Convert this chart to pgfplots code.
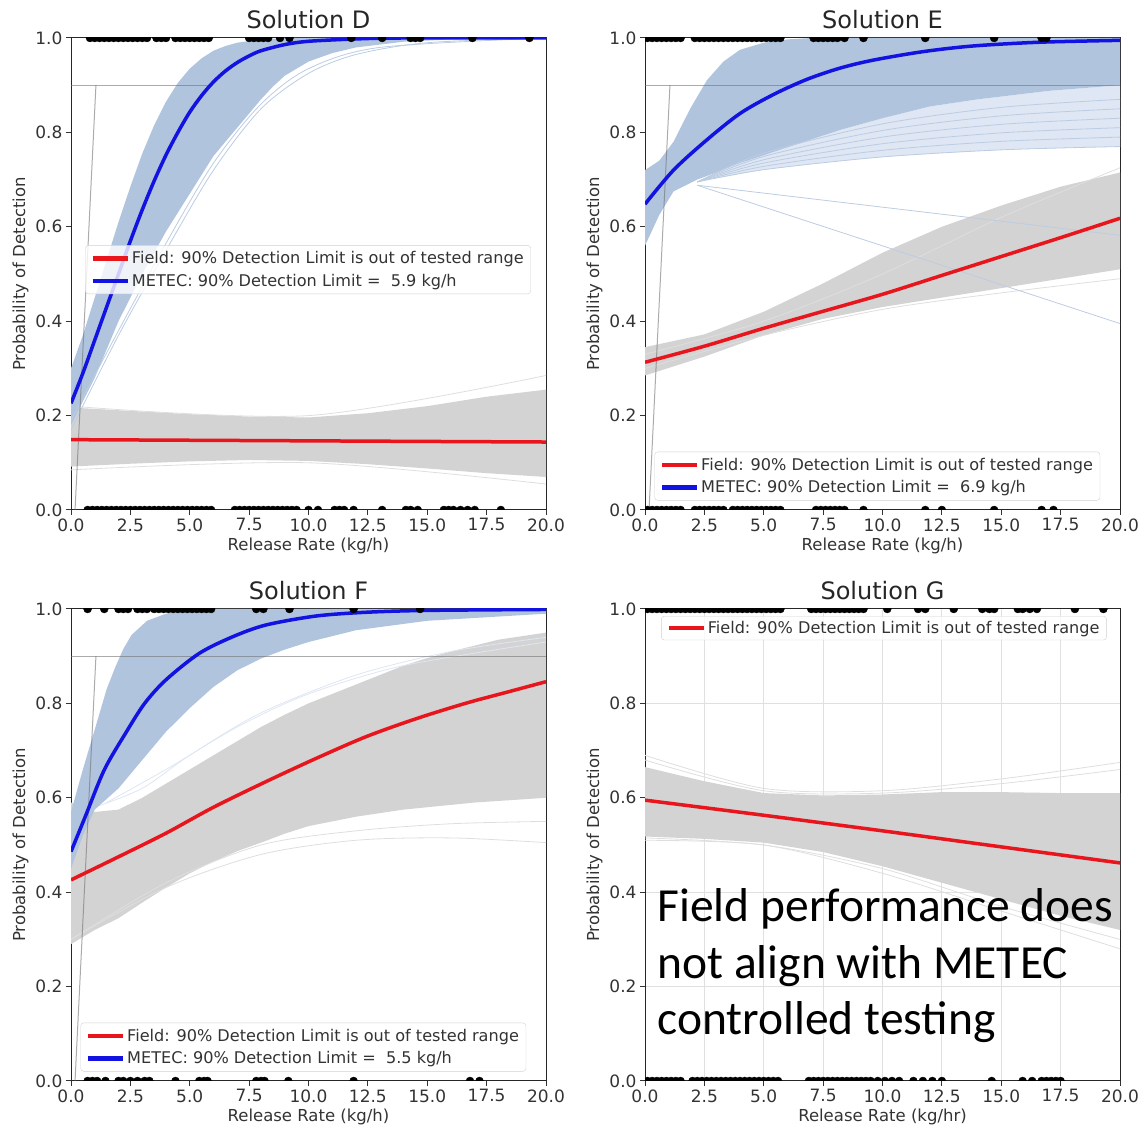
\documentclass[border=0pt]{standalone}
\usepackage{fontspec}
\setmainfont{DejaVu Sans}
\newfontfamily\calib{Carlito}
\usepackage{pgfplots}
\pgfplotsset{compat=1.18}
\definecolor{bandblue}{RGB}{176,196,222}
\definecolor{bandgray}{RGB}{211,211,211}
\definecolor{mred}{RGB}{232,22,28}
\definecolor{mblue}{RGB}{18,18,225}
\definecolor{fanblue}{RGB}{188,204,227}
\definecolor{fanfill}{RGB}{222,231,243}
\definecolor{paleblue}{RGB}{222,230,242}
\definecolor{thingray}{RGB}{222,222,222}
\pgfplotsset{
  legend image code/.code={\draw[#1, line width=4.5pt] (0pt,0pt) -- (35pt,0pt);},
  podstyle/.style={
    scale only axis, width=475pt, height=472pt,
    xmin=0, xmax=20, ymin=0, ymax=1,
    xtick={0,2.5,5,7.5,10,12.5,15,17.5,20},
    xticklabels={0.0,2.5,5.0,7.5,10.0,12.5,15.0,17.5,20.0},
    ytick={0,0.2,0.4,0.6,0.8,1},
    yticklabels={0.0,0.2,0.4,0.6,0.8,1.0},
    tick align=outside, tick pos=left,
    major tick length=5pt,
    tick style={black!80, line width=1pt},
    ticklabel style={font=\fontsize{17}{20}\selectfont, text=black!80},
    axis line style={black!85, line width=1pt},
    label style={font=\fontsize{16.5}{20}\selectfont, text=black!80},
    title style={font=\fontsize{24}{28}\selectfont, text=black!85},
    ylabel={Probability of Detection},
    clip mode=individual, clip marker paths=true,
    legend cell align=left,
    legend style={draw=black!18, fill=white, fill opacity=0.8, draw opacity=1, text opacity=1, rounded corners=3pt, font=\fontsize{16.1}{19}\selectfont, text=black!80, inner xsep=5pt, inner ysep=4pt, row sep=5pt},
  },
  dot/.style={only marks, mark=*, mark size=4pt, black, forget plot},
  mainline/.style={line width=3.5pt, smooth},
  guide/.style={black!55, line width=1pt, opacity=0.6, forget plot},
  band/.style={draw=none, fill=#1, forget plot},
  faint/.style={#1, line width=0.8pt, smooth, forget plot},
}
\begin{document}
\begin{tikzpicture}
\path[use as bounding box] (0,0) rectangle (1142pt,1134pt);

% ---------------- Solution D ----------------
\begin{axis}[podstyle, at={(71pt,624pt)}, anchor=south west, title={Solution D}, xlabel={Release Rate (kg/h)},
  legend style={at={(0.03,0.561)}, anchor=north west}]
\addplot[band=bandgray] coordinates {(0,0.217) (2.5,0.21) (5,0.203) (7.5,0.198) (10,0.196) (12.5,0.205) (15,0.22) (17.5,0.24) (20,0.255) (20,0.07) (17.5,0.078) (15,0.088) (12.5,0.097) (10,0.104) (7.5,0.106) (5,0.103) (2.5,0.098) (0,0.092)};
\addplot[faint=thingray] coordinates {(0,0.22) (10,0.2) (20,0.285)};
\addplot[faint=thingray] coordinates {(0,0.085) (10,0.1) (20,0.055)};
\addplot[band=bandblue] coordinates {(0,0.30) (0.5,0.37) (1,0.45) (1.5,0.53) (2,0.61) (2.5,0.685) (3,0.755) (3.5,0.815) (4,0.865) (4.5,0.905) (5,0.935) (5.5,0.957) (6,0.973) (6.5,0.983) (7,0.99) (8,0.997) (9,1.0) (20,1.0) (16,0.997) (14,0.992) (12,0.98) (11,0.968) (10,0.95) (9,0.92) (8.5,0.897) (8,0.87) (7.5,0.84) (7,0.81) (6.5,0.78) (6,0.75) (5.5,0.71) (5,0.67) (4.5,0.63) (4,0.59) (3.5,0.545) (3,0.50) (2.5,0.45) (2,0.40) (1.5,0.34) (1,0.28) (0.5,0.23) (0,0.18)};
\addplot[faint=fanblue] coordinates {(0,0.17) (2,0.37) (4,0.55) (6,0.72) (8,0.85) (10,0.925) (12,0.965) (15,0.99) (20,1.0)};
\addplot[faint=fanblue] coordinates {(0,0.19) (2,0.38) (4,0.565) (6,0.735) (8,0.86) (10,0.935) (13,0.98) (20,1.0)};
\addplot[guide] coordinates {(0.17,0) (1.05,0.9)};
\addplot[guide] coordinates {(0,0.9) (5.9,0.9)};
\addplot[mred, mainline] coordinates {(0,0.149) (20,0.144)};
\addlegendentry{Field: 90\% Detection Limit is out of tested range}
\addplot[mblue, mainline] coordinates {(0,0.226) (0.5,0.29) (1,0.36) (1.5,0.43) (2,0.50) (2.5,0.57) (3,0.636) (3.5,0.697) (4,0.752) (4.5,0.80) (5,0.843) (5.5,0.878) (6,0.907) (6.5,0.930) (7,0.948) (7.5,0.962) (8,0.973) (9,0.986) (10,0.993) (12,0.998) (14,1.0) (20,1.0)};
\addlegendentry{METEC: 90\% Detection Limit =\ \ 5.9 kg/h}
\addplot[dot] coordinates {(0.8,1) (1.0,1) (1.2,1) (1.4,1) (1.6,1) (1.8,1) (2.0,1) (2.2,1) (2.4,1) (2.6,1) (2.8,1) (3.0,1) (3.2,1) (3.6,1) (3.8,1) (4.0,1) (4.4,1) (4.6,1) (4.8,1) (5.0,1) (5.2,1) (5.4,1) (5.6,1) (5.8,1) (7.5,1) (7.7,1) (7.9,1) (8.1,1) (8.3,1) (8.8,1) (9.2,1) (11.8,1) (13.1,1) (14.3,1) (14.5,1) (14.7,1) (16.9,1) (19.3,1)};
\addplot[dot] coordinates {(0.7,0) (0.9,0) (1.1,0) (1.3,0) (1.5,0) (1.7,0) (1.9,0) (2.1,0) (2.3,0) (2.5,0) (2.7,0) (2.9,0) (3.1,0) (3.3,0) (3.5,0) (3.7,0) (3.9,0) (4.1,0) (4.3,0) (4.5,0) (4.7,0) (4.9,0) (5.1,0) (5.3,0) (5.5,0) (5.7,0) (5.9,0) (6.9,0) (7.1,0) (7.3,0) (7.5,0) (7.7,0) (7.9,0) (8.1,0) (8.3,0) (8.5,0) (8.7,0) (8.9,0) (9.1,0) (9.3,0) (9.5,0) (10.0,0) (10.4,0) (11.1,0) (11.3,0) (11.5,0) (11.9,0) (13.1,0) (14.1,0) (14.3,0) (14.6,0) (15.7,0) (15.9,0) (16.1,0) (16.4,0) (16.7,0) (17.0,0) (18.1,0)};
\end{axis}

% ---------------- Solution E ----------------
\begin{axis}[podstyle, at={(645pt,624pt)}, anchor=south west, title={Solution E}, xlabel={Release Rate (kg/h)},
  legend style={at={(0.02,0.02)}, anchor=south west}]
\addplot[band=bandgray] coordinates {(0,0.345) (2.5,0.372) (5,0.42) (7.5,0.48) (10,0.545) (12.5,0.60) (15,0.645) (17.5,0.685) (20,0.715) (20,0.51) (17.5,0.49) (15,0.47) (12.5,0.45) (10,0.43) (7.5,0.405) (5,0.37) (2.5,0.325) (0,0.285)};
\addplot[faint=thingray] coordinates {(0,0.33) (5,0.40) (10,0.50) (15,0.62) (20,0.725)};
\addplot[faint=thingray] coordinates {(0,0.30) (5,0.37) (10,0.425) (15,0.46) (20,0.49)};
\addplot[band=fanfill] coordinates {(2.2,0.695) (5,0.721) (7.5,0.736) (10,0.748) (12.5,0.756) (15,0.763) (17.5,0.767) (20,0.77) (20,0.90) (17,0.888) (14,0.87) (12,0.855) (10,0.83) (8.2,0.805) (7,0.785) (5.5,0.76) (4,0.735) (3,0.715)};
\addplot[band=bandblue] coordinates {(0,0.72) (0.6,0.74) (1.2,0.78) (1.9,0.85) (2.6,0.91) (3.3,0.95) (4,0.975) (5,0.99) (6,0.997) (7,1.0) (20,1.0) (20,0.90) (17,0.888) (14,0.87) (12,0.855) (10,0.83) (8.2,0.805) (7,0.785) (5.5,0.76) (4,0.735) (3,0.715) (2.2,0.70) (1.2,0.675) (0.6,0.625) (0,0.56)};
\addplot[faint=fanblue] coordinates {(2.2,0.695) (5,0.721) (10,0.748) (15,0.763) (20,0.77)};
\addplot[faint=fanblue] coordinates {(2.2,0.695) (5,0.728) (10,0.762) (15,0.781) (20,0.79)};
\addplot[faint=fanblue] coordinates {(2.2,0.695) (5,0.735) (10,0.776) (15,0.799) (20,0.81)};
\addplot[faint=fanblue] coordinates {(2.2,0.695) (5,0.742) (10,0.790) (15,0.817) (20,0.83)};
\addplot[faint=fanblue] coordinates {(2.2,0.695) (5,0.749) (10,0.804) (15,0.835) (20,0.85)};
\addplot[faint=fanblue] coordinates {(2.2,0.695) (5,0.756) (10,0.818) (15,0.853) (20,0.87)};
\addplot[faint=fanblue] coordinates {(2.2,0.688) (20,0.395)};
\addplot[faint=fanblue] coordinates {(2.2,0.688) (20,0.582)};
\addplot[guide] coordinates {(0.17,0) (1.05,0.9)};
\addplot[guide] coordinates {(0,0.9) (20,0.9)};
\addplot[mred, mainline] coordinates {(0,0.313) (2.5,0.347) (5,0.385) (7.5,0.421) (10,0.457) (12.5,0.497) (15,0.537) (17.5,0.577) (20,0.618)};
\addlegendentry{Field: 90\% Detection Limit is out of tested range}
\addplot[mblue, mainline] coordinates {(0,0.648) (1.2,0.72) (2.6,0.784) (4.0,0.84) (5.4,0.88) (6.8,0.912) (8.2,0.936) (9.6,0.953) (11.7,0.971) (13.8,0.983) (16.6,0.991) (20,0.995)};
\addlegendentry{METEC: 90\% Detection Limit =\ \ 6.9 kg/h}
\addplot[dot] coordinates {(0.1,1) (0.3,1) (0.5,1) (0.7,1) (0.9,1) (1.1,1) (1.3,1) (1.5,1) (2.1,1) (2.3,1) (2.5,1) (2.7,1) (2.9,1) (3.1,1) (3.3,1) (3.5,1) (3.7,1) (3.9,1) (4.1,1) (4.3,1) (4.5,1) (4.7,1) (4.9,1) (5.1,1) (5.3,1) (5.5,1) (5.7,1) (7.1,1) (7.3,1) (7.5,1) (7.7,1) (7.9,1) (8.1,1) (8.4,1) (9.2,1) (11.8,1) (14.7,1) (16.7,1) (16.9,1)};
\addplot[dot] coordinates {(0.1,0) (0.3,0) (0.5,0) (0.7,0) (0.9,0) (1.1,0) (1.3,0) (1.5,0) (2.1,0) (2.3,0) (2.5,0) (2.7,0) (2.9,0) (3.1,0) (3.3,0) (3.7,0) (3.9,0) (4.1,0) (4.3,0) (4.5,0) (4.7,0) (4.9,0) (5.1,0) (5.3,0) (5.5,0) (5.7,0) (7.2,0) (7.4,0) (7.6,0) (7.8,0) (8.0,0) (8.2,0) (8.4,0) (9.2,0) (11.8,0) (12.5,0) (14.7,0) (16.7,0) (17.2,0)};
\end{axis}

% ---------------- Solution F ----------------
\begin{axis}[podstyle, at={(71pt,53pt)}, anchor=south west, title={Solution F}, xlabel={Release Rate (kg/h)},
  legend style={at={(0.02,0.02)}, anchor=south west}]
\addplot[band=bandgray] coordinates {(0,0.59) (1,0.57) (2,0.575) (3,0.60) (4,0.63) (5,0.66) (6,0.69) (7,0.72) (8,0.75) (9,0.776) (10,0.80) (11,0.82) (12,0.84) (13,0.86) (14,0.88) (15,0.896) (16,0.91) (18,0.935) (20,0.95) (20,0.60) (17,0.59) (14,0.575) (12,0.56) (10,0.54) (9,0.524) (8,0.505) (7,0.487) (6,0.465) (5,0.44) (4,0.41) (3,0.378) (2,0.345) (1,0.32) (0,0.29)};
\addplot[faint=thingray] coordinates {(0,0.30) (4,0.42) (8,0.50) (12,0.53) (16,0.545) (20,0.55)};
\addplot[faint=thingray] coordinates {(0,0.30) (4,0.41) (8,0.48) (12,0.51) (16,0.515) (20,0.505)};
\addplot[faint=paleblue] coordinates {(1,0.58) (3,0.62) (5,0.69) (8,0.78) (12,0.86) (16,0.91) (20,0.94)};
\addplot[faint=paleblue] coordinates {(1.5,0.59) (4,0.66) (7,0.75) (10,0.82) (14,0.88) (20,0.93)};
\addplot[band=bandblue] coordinates {(0,0.57) (0.5,0.66) (1.15,0.77) (1.5,0.83) (1.85,0.875) (2.2,0.915) (2.55,0.945) (3.2,0.975) (4,0.99) (5,0.998) (6,1.0) (20,1.0) (20,0.99) (15,0.975) (12,0.955) (10,0.93) (9,0.914) (8,0.895) (7,0.87) (6,0.835) (5,0.79) (4,0.74) (3,0.68) (2,0.62) (1,0.575) (0.5,0.52) (0,0.45)};
\addplot[guide] coordinates {(0.17,0) (1.05,0.9)};
\addplot[guide] coordinates {(0,0.9) (20,0.9)};
\addplot[mred, mainline] coordinates {(0,0.426) (2,0.475) (4,0.525) (6,0.58) (8.2,0.634) (10.3,0.683) (12.4,0.729) (14.5,0.767) (16.6,0.80) (18.3,0.823) (20,0.846)};
\addlegendentry{Field: 90\% Detection Limit is out of tested range}
\addplot[mblue, mainline] coordinates {(0,0.486) (0.6,0.56) (1.4,0.659) (2.3,0.737) (3.1,0.80) (4.0,0.85) (5.4,0.906) (6.8,0.941) (8.2,0.966) (10.3,0.985) (12.4,0.993) (15,0.997) (20,0.999)};
\addlegendentry{METEC: 90\% Detection Limit =\ \ 5.5 kg/h}
\addplot[dot] coordinates {(0.7,1) (1.4,1) (2.0,1) (2.2,1) (2.4,1) (2.8,1) (3.0,1) (3.2,1) (3.5,1) (3.7,1) (3.9,1) (4.1,1) (4.3,1) (4.5,1) (4.7,1) (4.9,1) (5.1,1) (5.3,1) (5.5,1) (5.7,1) (5.9,1) (7.8,1) (8.1,1) (9.2,1) (11.9,1) (14.7,1)};
\addplot[dot] coordinates {(0.7,0) (0.9,0) (1.1,0) (1.45,0) (2.0,0) (2.2,0) (2.5,0) (2.8,0) (3.1,0) (3.3,0) (4.4,0) (5.4,0) (5.6,0) (5.75,0) (7.8,0) (8.0,0) (8.15,0) (9.15,0) (11.9,0) (16.8,0) (17.2,0)};
\end{axis}

% ---------------- Solution G ----------------
\begin{axis}[podstyle, at={(645pt,53pt)}, anchor=south west, title={Solution G}, xlabel={Release Rate (kg/hr)},
  grid=major, major grid style={black!12, line width=1pt},
  legend style={at={(0.503,0.985)}, anchor=north, inner ysep=3pt}]
\addplot[band=bandgray] coordinates {(0,0.665) (2.5,0.635) (5,0.61) (7.5,0.605) (10,0.607) (12.5,0.612) (15,0.612) (17.5,0.61) (20,0.61) (20,0.32) (17.5,0.35) (15,0.385) (12.5,0.42) (10,0.455) (7.5,0.485) (5,0.505) (2.5,0.513) (0,0.518)};
\addplot[faint=thingray] coordinates {(0,0.69) (5,0.62) (10,0.615) (15,0.64) (20,0.675)};
\addplot[faint=thingray] coordinates {(0,0.68) (5,0.615) (10,0.61) (15,0.63) (20,0.66)};
\addplot[faint=thingray] coordinates {(0,0.51) (5,0.50) (10,0.44) (15,0.36) (20,0.28)};
\addplot[faint=thingray] coordinates {(0,0.515) (5,0.50) (10,0.45) (15,0.37) (20,0.30)};
\addplot[mred, mainline] coordinates {(0,0.595) (5,0.563) (10,0.53) (15,0.496) (20,0.462)};
\addlegendentry{Field: 90\% Detection Limit is out of tested range}
\addplot[dot] coordinates {(0.1,1) (0.3,1) (0.5,1) (0.7,1) (0.9,1) (1.1,1) (1.3,1) (1.5,1) (1.7,1) (1.9,1) (2.1,1) (2.3,1) (2.5,1) (2.7,1) (2.9,1) (3.1,1) (3.3,1) (3.5,1) (3.7,1) (3.9,1) (4.1,1) (4.3,1) (4.5,1) (4.7,1) (4.9,1) (5.1,1) (5.3,1) (5.5,1) (5.7,1) (7.0,1) (7.2,1) (7.4,1) (7.6,1) (7.8,1) (8.0,1) (8.2,1) (8.4,1) (8.6,1) (8.8,1) (9.0,1) (9.2,1) (10.2,1) (11.5,1) (11.8,1) (13.0,1) (14.2,1) (14.5,1) (14.7,1) (15.7,1) (15.9,1) (16.2,1) (16.5,1) (18.1,1) (19.3,1)};
\addplot[dot] coordinates {(0.1,0) (0.3,0) (0.5,0) (0.7,0) (0.9,0) (1.1,0) (1.3,0) (1.5,0) (2.0,0) (2.2,0) (2.4,0) (2.6,0) (2.8,0) (3.0,0) (3.2,0) (3.4,0) (3.6,0) (3.8,0) (4.0,0) (4.2,0) (4.4,0) (4.6,0) (4.8,0) (5.0,0) (5.2,0) (5.4,0) (5.6,0) (6.9,0) (7.1,0) (7.3,0) (7.5,0) (7.7,0) (7.9,0) (8.1,0) (8.3,0) (8.5,0) (8.7,0) (8.9,0) (9.1,0) (9.3,0) (9.5,0) (9.8,0) (10.1,0) (10.4,0) (10.7,0) (11.3,0) (11.7,0) (12.1,0) (12.5,0) (14.6,0) (15.9,0) (16.3,0) (16.7,0) (16.9,0) (17.1,0) (17.3,0) (17.5,0)};
\node[anchor=base west, inner sep=0pt, font=\calib\fontsize{47.5}{57}\selectfont] at (rel axis cs:0.026,0.337) {Field performance does};
\node[anchor=base west, inner sep=0pt, font=\calib\fontsize{47.5}{57}\selectfont] at (rel axis cs:0.026,0.218) {not align with METEC};
\node[anchor=base west, inner sep=0pt, font=\calib\fontsize{47.5}{57}\selectfont] at (rel axis cs:0.026,0.0975) {controlled testing};
\end{axis}
\end{tikzpicture}
\end{document}
